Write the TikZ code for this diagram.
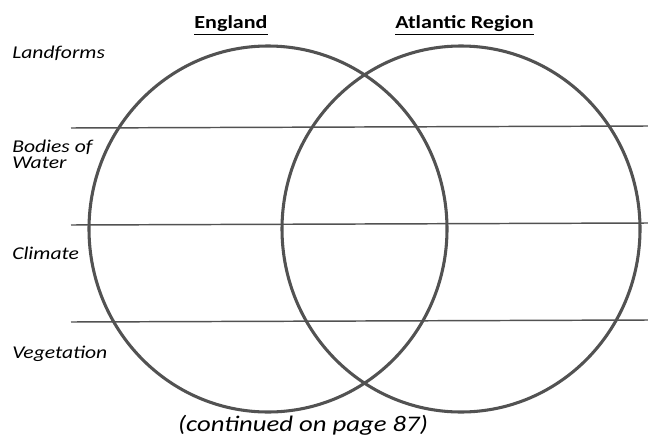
\documentclass[tikz,border=0pt]{standalone}
\usepackage{fontspec}
\setmainfont{Carlito}[FakeStretch=1.2]
\usetikzlibrary{shapes.geometric}
\begin{document}
\begin{tikzpicture}[x=0.75pt,y=-0.75pt,
  venn/.style={draw=black!68,line width=2.3pt,ellipse,minimum width=268.5pt,minimum height=274.5pt,inner sep=0pt},
  rowline/.style={draw=black!68,line width=1.1pt},
  rowlabel/.style={anchor=base west,font=\itshape\fontsize{13.5pt}{12pt}\selectfont,align=left,inner sep=0pt},
  head/.style={anchor=base,font=\bfseries\fontsize{13.8pt}{14pt}\selectfont,inner sep=0pt}]
\useasboundingbox (0,0) rectangle (648,442);
\coordinate (l1a) at (71,128); \coordinate (l1b) at (648,126);
\coordinate (l2a) at (71,225); \coordinate (l2b) at (648,223);
\coordinate (l3a) at (71,322); \coordinate (l3b) at (648,320);
\draw[rowline] (l1a) -- (l1b);
\draw[rowline] (l2a) -- (l2b);
\draw[rowline] (l3a) -- (l3b);
\node[venn] (eng) at (268,229) {};
\node[venn] (atl) at (461,229) {};
\node[head] (h1) at (231,29) {\underline{England}};
\node[head] (h2) at (464.5,29) {\underline{Atlantic Region}};
\node[rowlabel] (t1) at (12,59) {Landforms};
\node[rowlabel,anchor=north west] (t2) at (12,139.5) {Bodies of\\Water};
\node[rowlabel] (t3) at (12,259) {Climate};
\node[rowlabel] (t4) at (12,358) {Vegetation};
\node[anchor=base,font=\itshape\fontsize{16.7pt}{18pt}\selectfont,inner sep=0pt] (cont) at (303,431) {(continued on page 87)};
\end{tikzpicture}
\end{document}
